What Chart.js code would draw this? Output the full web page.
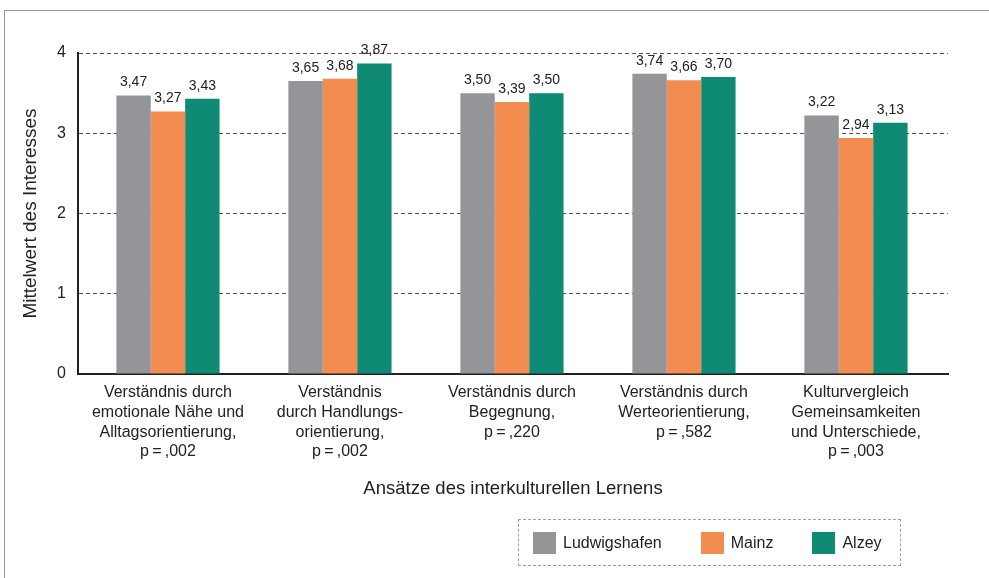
<!DOCTYPE html>
<html>
<head>
<meta charset="utf-8">
<script src="https://cdn.jsdelivr.net/npm/chart.js@4"></script>
<style>
    body { margin: 0; background: #fff; font-family: "Liberation Sans", Arial, sans-serif; }
    #wrap { position: absolute; left: 0; top: 0; width: 989px; height: 578px; }
    #frame { position: absolute; left: 4px; top: 10px; width: 985px; height: 568px;
        border-top: 1.5px solid #9a9a9a; border-left: 1.5px solid #9a9a9a; box-sizing: border-box; }
    #legend { position: absolute; left: 518px; top: 519px; width: 383px; height: 47px; box-sizing: border-box;
        border: 1.5px dashed #a0a0a0; display: flex; align-items: center; padding-left: 14px;
        font-size: 16px; color: #222; }
    #legend .item { display: flex; align-items: center; margin-right: 39px; }
    #legend .box { width: 23px; height: 22px; margin-right: 7px; }
</style>
</head>
<body>
<div id="frame"></div>
<div id="wrap"><canvas id="chart"></canvas></div>
<div id="legend"></div>
<script>
// Data
const categories = [
    ['Verständnis durch', 'emotionale Nähe und', 'Alltagsorientierung,', 'p\u2009=\u2009,002'],
    ['Verständnis', 'durch Handlungs-', 'orientierung,', 'p\u2009=\u2009,002'],
    ['Verständnis durch', 'Begegnung,', 'p\u2009=\u2009,220'],
    ['Verständnis durch', 'Werteorientierung,', 'p\u2009=\u2009,582'],
    ['Kulturvergleich', 'Gemeinsamkeiten', 'und Unterschiede,', 'p\u2009=\u2009,003']
];
const seriesNames = ['Ludwigshafen', 'Mainz', 'Alzey'];
const ludwigshafen = [3.47, 3.65, 3.50, 3.74, 3.22];
const mainz = [3.27, 3.68, 3.39, 3.66, 2.94];
const alzey = [3.43, 3.87, 3.50, 3.70, 3.13];
const colors = ['#939598', '#f28c51', '#0f8a74'];
const yTicks = [0, 1, 2, 3, 4];

const fmt = (v) => v.toFixed(2).replace('.', ',');
const font = '"Liberation Sans", Arial, sans-serif';

// Value labels above bars
const valueLabels = {
    id: 'valueLabels',
    afterDatasetsDraw(chart) {
        const ctx = chart.ctx;
        ctx.save();
        ctx.font = '14px ' + font;
        ctx.fillStyle = '#222';
        ctx.textAlign = 'center';
        ctx.textBaseline = 'bottom';
        chart.data.datasets.forEach((ds, i) => {
            chart.getDatasetMeta(i).data.forEach((bar, j) => {
                ctx.fillText(fmt(ds.data[j]), bar.x, bar.y - 6);
            });
        });
        ctx.restore();
    }
};

const values = [ludwigshafen, mainz, alzey];

new Chart(document.getElementById('chart'), {
    type: 'bar',
    data: {
        labels: categories,
        datasets: seriesNames.map((name, i) => ({
            label: name,
            data: values[i],
            backgroundColor: colors[i],
            barPercentage: 1,
            categoryPercentage: 0.6
        }))
    },
    options: {
        responsive: true,
        maintainAspectRatio: false,
        animation: false,
        layout: {
            padding: { left: 0, top: 53, right: 41, bottom: 78 }
        },
        plugins: {
            legend: { display: false },
            tooltip: { enabled: false }
        },
        scales: {
            x: {
                grid: { display: false, drawTicks: false },
                border: { display: true, color: '#222', width: 2 },
                ticks: {
                    color: '#222',
                    padding: 9,
                    maxRotation: 0,
                    autoSkip: false,
                    font: { family: font, size: 16, lineHeight: 1.23 }
                },
                title: {
                    display: true,
                    text: 'Ansätze des interkulturellen Lernens',
                    color: '#222',
                    padding: { top: 0, bottom: 0 },
                    font: { family: font, size: 18.5 }
                },
                // groups sit a little inside the plot edges
                afterBuildTicks: (s) => { s._startValue = -0.523; s._valueRange = 5.058; },
                afterFit: (s) => { s.height = 126; }
            },
            y: {
                min: 0,
                max: 4,
                afterBuildTicks: (s) => { s.ticks = yTicks.map((v) => ({ value: v })); },
                grid: { color: '#555', drawTicks: false, lineWidth: 1 },
                border: { display: true, color: '#222', width: 2, dash: [4, 3] },
                ticks: {
                    color: '#222',
                    padding: 12,
                    font: { family: font, size: 16 }
                },
                title: {
                    display: true,
                    text: 'Mittelwert des Interesses',
                    color: '#222',
                    padding: { top: 19.5, bottom: 0 },
                    font: { family: font, size: 19 }
                },
                afterFit: (s) => { s.width = 78; }
            }
        }
    },
    plugins: [valueLabels]
});

// Legend
const legend = document.getElementById('legend');
seriesNames.forEach((name, i) => {
    const item = document.createElement('div');
    item.className = 'item';
    item.innerHTML = '<div class="box" style="background:' + colors[i] + '"></div><span>' + name + '</span>';
    legend.appendChild(item);
});
</script>
</body>
</html>
